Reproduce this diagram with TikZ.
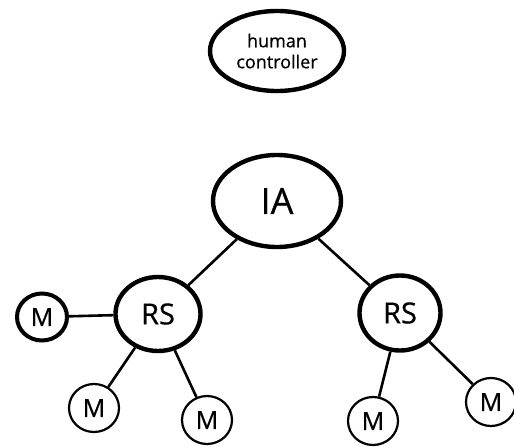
\documentclass[tikz,border=0pt]{standalone}
\usepackage{fontspec}
\setmainfont{Open Sans}[FakeBold=0.6,BoldFont={Open Sans}]
\usetikzlibrary{shapes.geometric}
\begin{document}
\begin{tikzpicture}[x=1pt,y=-1pt,font=\bfseries,
  big/.style={ellipse,draw,line width=4.4pt,inner sep=0pt},
  mthick/.style={ellipse,draw,line width=4pt,inner sep=0pt,minimum width=50pt,minimum height=47pt,font=\fontsize{25}{25}\bfseries\selectfont},
  mthin/.style={ellipse,draw,line width=2.2pt,inner sep=0pt,minimum width=50pt,minimum height=48pt,font=\fontsize{25}{25}\bfseries\selectfont},
  link/.style={line width=2.6pt}]
\useasboundingbox (0,0) rectangle (514,447);
\node[big,minimum width=134pt,minimum height=80pt,align=center,font=\fontsize{18}{21}\bfseries\selectfont] (hc) at (277,51) {human\\controller};
\node[big,minimum width=128pt,minimum height=92pt,font=\fontsize{36}{36}\bfseries\selectfont] (ia) at (277,201) {IA};
\node[big,minimum width=85pt,minimum height=74pt,font=\fontsize{29}{29}\bfseries\selectfont] (rsl) at (158,314) {RS};
\node[big,minimum width=81pt,minimum height=75pt,font=\fontsize{29}{29}\bfseries\selectfont] (rsr) at (400,313) {RS};
\node[mthick] (ml) at (42,317) {M};
\node[mthin] (m1) at (94,408) {M};
\node[mthin] (m2) at (207,420) {M};
\node[mthin] (m3) at (373,421) {M};
\node[mthin] (m4) at (491,402) {M};
\draw[link] (ia) -- (rsl);
\draw[link] (ia) -- (rsr);
\draw[link] (ml) -- (rsl);
\draw[link] (rsl) -- (m1);
\draw[link] (rsl) -- (m2);
\draw[link] (rsr) -- (m3);
\draw[link] (rsr) -- (m4);
\end{tikzpicture}
\end{document}
